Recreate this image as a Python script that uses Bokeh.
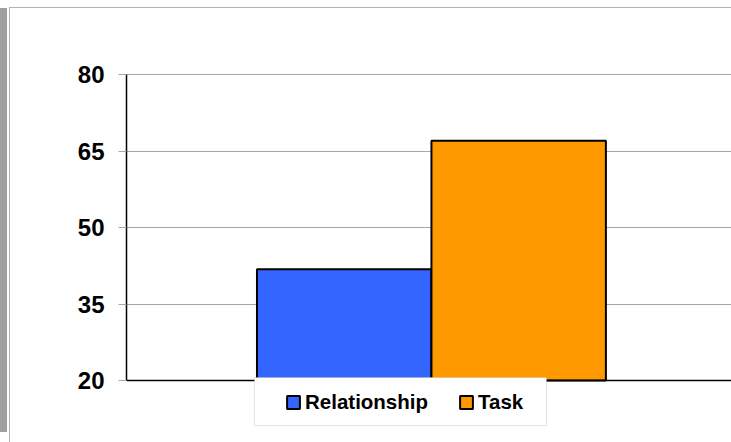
from bokeh.plotting import figure
from bokeh.models import (ColumnDataSource, Range1d, FixedTicker, Legend, LegendItem,
                          BoxAnnotation, Span)
from bokeh.embed import file_html
from bokeh.resources import INLINE

# ---- data ----
categories = ["Relationship", "Task"]
values = [41.8, 67.0]
colors = ["#3366FF", "#FF9900"]
positions = [-0.5, 0.5]
y_ticks = [20, 35, 50, 65, 80]
y_min, y_max = 20, 80

FONT = "Liberation Sans"

# value 80 sits at y=74 and value 20 at y=380; the frame runs a little above 80
# and down to the bottom of the canvas so that the legend is not clipped
px_per_unit = (380 - 74) / (y_max - y_min)
frame_top = 71
y_lo = y_min - (442 - 380) / px_per_unit
y_hi = y_max + (74 - frame_top) / px_per_unit

p = figure(width=731, height=442, output_backend="svg", toolbar_location=None,
           x_range=Range1d(-1.748, 1.72), y_range=Range1d(y_lo, y_hi),
           min_border_left=126, min_border_top=frame_top, min_border_bottom=0,
           min_border_right=0)
p.border_fill_color = None
p.background_fill_color = "white"
p.outline_line_color = None
p.styles = {
    "background": "linear-gradient(#a0a0a0,#a0a0a0) 0px 8px / 7px 424px no-repeat, "
                  "linear-gradient(#b4b4b4,#b4b4b4) 9px 7px / 1px 435px no-repeat, "
                  "linear-gradient(#b4b4b4,#b4b4b4) 9px 7px / 722px 1px no-repeat, white"
}

src = ColumnDataSource(dict(x=positions, top=values, cat=categories, color=colors))
bars = p.vbar(x="x", top="top", bottom=y_min, width=1.0, source=src,
              fill_color="color", line_color="black", line_width=2)

# y axis
p.yaxis.ticker = FixedTicker(ticks=y_ticks)
p.yaxis.bounds = (y_min, y_max)
p.yaxis.major_label_text_font = FONT
p.yaxis.major_label_text_font_style = "bold"
p.yaxis.major_label_text_font_size = "24px"
p.yaxis.major_label_text_color = "black"
p.yaxis.major_tick_out = 8
p.yaxis.major_tick_in = 0
p.yaxis.major_tick_line_color = "#a6a6a6"
p.yaxis.minor_tick_line_color = None
p.yaxis.major_label_standoff = 14
p.yaxis.axis_line_color = "black"
p.yaxis.axis_line_width = 1.5

p.xaxis.visible = False
p.xgrid.grid_line_color = None
p.ygrid.ticker = FixedTicker(ticks=y_ticks[1:])
p.ygrid.grid_line_color = "#a6a6a6"
p.ygrid.grid_line_width = 1

# category axis baseline
p.add_layout(Span(location=y_min, dimension="width", line_color="black", line_width=1.5))

# legend frame
p.add_layout(BoxAnnotation(left=254, right=546, top=377, bottom=425,
                           left_units="canvas", right_units="canvas",
                           top_units="canvas", bottom_units="canvas",
                           fill_color="white", fill_alpha=1.0,
                           line_color="#a6a6a6", line_width=1))

items = [LegendItem(label=categories[i], renderers=[bars], index=i) for i in range(len(categories))]
lg = Legend(items=items, orientation="horizontal", location=(159, 28),
            border_line_color=None, background_fill_alpha=0.0,
            padding=0, margin=0, spacing=30,
            glyph_width=16, glyph_height=16, label_standoff=4,
            label_height=22,
            label_text_font=FONT, label_text_font_style="bold",
            label_text_font_size="20.5px", label_text_color="black")
p.add_layout(lg, "center")

open("out.html", "w").write(file_html(p, INLINE))
